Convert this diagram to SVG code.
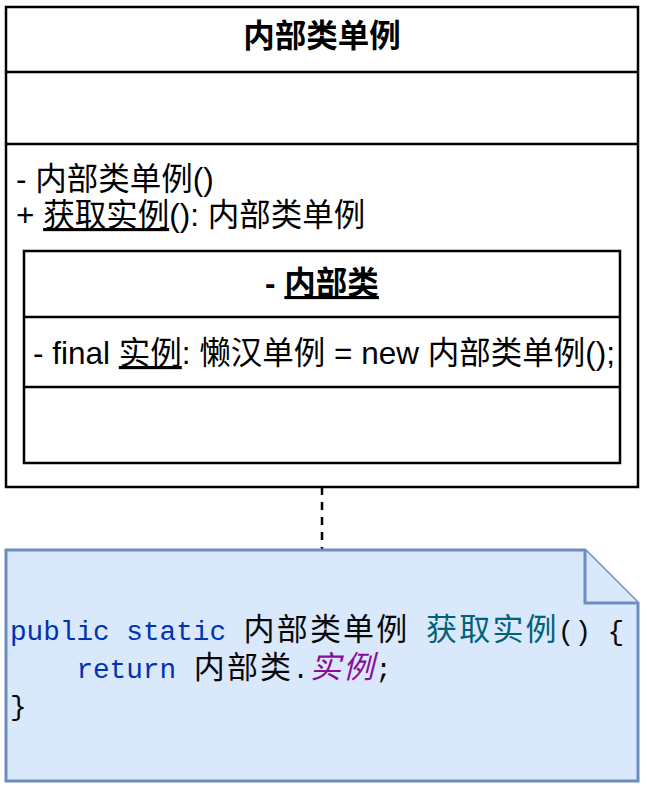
<svg xmlns="http://www.w3.org/2000/svg" width="647" height="789" viewBox="0 0 647 789">
<style>
  .box { fill: #ffffff; stroke: #000000; stroke-width: 2.5; }
  .sep { stroke: #000000; stroke-width: 2.5; fill: none; }
  .uml { font-family: "Liberation Sans", "Noto Sans CJK SC", sans-serif; font-size: 31.5px; fill: #000000; }
  .bold { font-weight: bold; }
  .u { text-decoration: underline; }
  .note { fill: #dae8fc; stroke: #6c8ebf; stroke-width: 3; }
  .mono { font-family: "Liberation Mono", monospace; font-size: 27.7px; }
  .cjk { font-family: "Noto Sans CJK SC", sans-serif; font-size: 31px; letter-spacing: 2.2px; }
  .kw { fill: #0033b3; }
  .fn { fill: #00627a; }
  .fld { fill: #871094; font-style: italic; }
  .plain { fill: #080808; }
  .dash { stroke: #000000; stroke-width: 2.5; stroke-dasharray: 8 7; fill: none; }
</style>
<rect width="647" height="789" fill="#ffffff"/>
<g id="connectors">
  <line class="dash" x1="322" y1="487" x2="322" y2="550"/>
</g>
<g id="class-inner-singleton">
  <rect class="box" x="6" y="7" width="632" height="480"/>
  <line class="sep" x1="6" y1="72" x2="638" y2="72"/>
  <line class="sep" x1="6" y1="144" x2="638" y2="144"/>
  <text class="uml bold" x="322" y="47" text-anchor="middle">内部类单例</text>
  <text class="uml" x="16" y="190">- 内部类单例()</text>
  <text class="uml" x="16" y="226">+ <tspan class="u">获取实例</tspan>(): 内部类单例</text>
  <g id="class-inner-holder">
    <rect class="box" x="24" y="251" width="596" height="212"/>
    <line class="sep" x1="24" y1="317" x2="620" y2="317"/>
    <line class="sep" x1="24" y1="387" x2="620" y2="387"/>
    <text class="uml bold" x="322" y="294" text-anchor="middle">- <tspan class="u">内部类</tspan></text>
    <text class="uml" x="33" y="364">- final <tspan class="u">实例</tspan>: 懒汉单例 = new 内部类单例();</text>
  </g>
</g>
<g id="note-code">
  <path class="note" d="M6 550 H585 L638 603 V781 H6 Z"/>
  <path class="note" d="M585 550 V603 H638"/>
  <text class="mono kw" x="10" y="640">public static</text>
  <text class="cjk plain" x="243.5" y="640">内部类单例</text>
  <text class="cjk fn" x="426" y="640">获取实例</text>
  <text class="mono plain" x="557.8" y="640">()</text>
  <text class="mono plain" x="607.6" y="640">{</text>
  <text class="mono kw" x="76.4" y="678">return</text>
  <text class="cjk plain" x="193.7" y="678">内部类</text>
  <text class="mono plain" x="292.2" y="678">.</text>
  <text class="cjk fld" x="309.9" y="678">实例</text>
  <text class="mono plain" x="375.2" y="678">;</text>
  <text class="mono plain" x="10" y="715">}</text>
</g>
</svg>
